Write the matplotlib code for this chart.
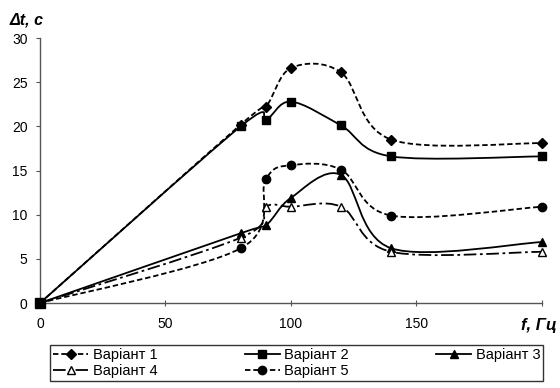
import matplotlib.pyplot as plt
import numpy as np
from matplotlib.path import Path
from matplotlib.patches import PathPatch
from matplotlib.lines import Line2D

plt.rcParams['font.family'] = ['Liberation Sans', 'DejaVu Sans']

freq = [0, 80, 90, 100, 120, 140, 200]
variant_1 = [0, 20.2, 22.2, 26.6, 26.1, 18.5, 18.1]
variant_2 = [0, 20.0, 20.7, 22.8, 20.1, 16.6, 16.6]
variant_3 = [0, 7.9, 8.8, 11.9, 14.5, 6.2, 6.9]
variant_4 = [0, 7.4, 10.9, 10.9, 10.9, 5.8, 5.8]
variant_5 = [0, 6.2, 14.0, 15.6, 15.1, 9.9, 10.9]
labels = ["Варіант 1", "Варіант 2", "Варіант 3", "Варіант 4", "Варіант 5"]


def smooth_path(x, y):
    # Excel-style smoothed line: cubic Bezier segments with Catmull-Rom tangents
    p = np.column_stack([x, y]).astype(float)
    n = len(p)
    verts = [p[0]]
    codes = [Path.MOVETO]
    for i in range(n - 1):
        p0 = p[i - 1] if i > 0 else p[i]
        p3 = p[i + 2] if i + 2 < n else p[i + 1]
        c1 = p[i] + (p[i + 1] - p0) / 6.0
        c2 = p[i + 1] - (p3 - p[i]) / 6.0
        verts += [c1, c2, p[i + 1]]
        codes += [Path.CURVE4] * 3
    return Path(verts, codes)


fig = plt.figure(figsize=(5.6, 3.88), dpi=100)
ax = fig.add_axes([0.0714, 0.219, 0.896, 0.683])

series = [
    (variant_1, (0, (3, 1.6)), "D", "black", 5),
    (variant_2, "-", "s", "black", 6),
    (variant_3, "-", "^", "black", 6),
    (variant_4, (0, (7, 2, 1.5, 2)), "^", "white", 6),
    (variant_5, (0, (3, 1.6)), "o", "black", 6),
]

handles = []
for (vals, ls, mk, mfc, ms), lab in zip(series, labels):
    patch = PathPatch(smooth_path(freq, vals), facecolor="none",
                      edgecolor="black", linewidth=1.3, linestyle=ls)
    ax.add_patch(patch)
    ax.plot(freq, vals, linestyle="none", marker=mk, markersize=ms,
            markerfacecolor=mfc, markeredgecolor="black", markeredgewidth=1,
            clip_on=False, zorder=3)
    handles.append(Line2D([], [], color="black", linewidth=1.3, linestyle=ls,
                          marker=mk, markersize=ms, markerfacecolor=mfc,
                          markeredgecolor="black", label=lab))

# the last drawn marker at the origin is a square in the reference
ax.plot(freq[:1], variant_2[:1], linestyle="none", marker="s", markersize=7,
        color="black", clip_on=False, zorder=4)

ax.set_xlim(0, 200)
ax.set_ylim(0, 30)
ax.set_xticks([0, 50, 100, 150, 200])
ax.set_xticklabels(["0", "50", "100", "150", ""])
ax.set_yticks(range(0, 31, 5))

for s in ["top", "right"]:
    ax.spines[s].set_visible(False)
for s in ["left", "bottom"]:
    ax.spines[s].set_color("#555555")
    ax.spines[s].set_linewidth(1.0)
ax.tick_params(axis="x", direction="inout", length=4, color="#555555",
               labelsize=10, pad=8)
ax.tick_params(axis="y", direction="out", length=3, color="#555555",
               labelsize=10, pad=6)

ax.text(-0.06, 1.04, "Δt, с", transform=ax.transAxes, fontsize=11.5,
        fontweight="bold", fontstyle="italic", ha="left", va="bottom")
ax.text(1.03, -0.085, "f, Гц", transform=ax.transAxes, fontsize=12,
        fontweight="bold", fontstyle="italic", ha="right", va="center")

order = [0, 3, 1, 4, 2]
leg = fig.legend([handles[i] for i in order], [labels[i] for i in order],
                 ncol=3, loc="lower center", bbox_to_anchor=(0.53, 0.0),
                 fontsize=10.5, frameon=True, fancybox=False, edgecolor="black",
                 handlelength=2.4, handletextpad=0.3, columnspacing=6.0,
                 borderpad=0.2, labelspacing=0.1)
leg.get_frame().set_linewidth(1.0)

fig.savefig("out.png", dpi=100)
